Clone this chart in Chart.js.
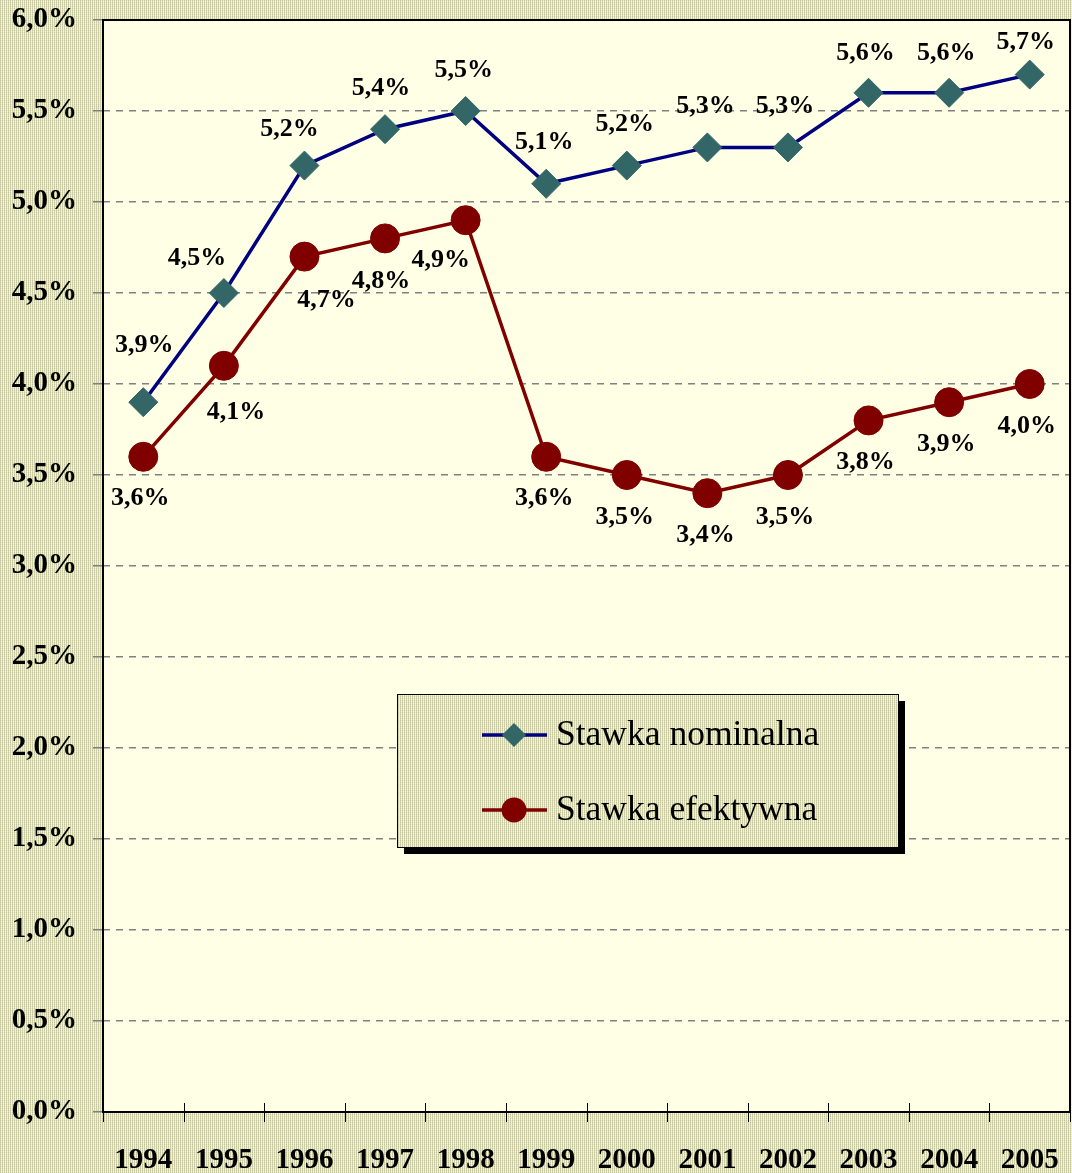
<!DOCTYPE html>
<html><head><meta charset="utf-8">
<script src="https://cdn.jsdelivr.net/npm/chart.js@4"></script>
<style>html,body{margin:0;padding:0;background:#DCDCC0;overflow:hidden}canvas{display:block}</style>
</head><body>
<canvas id="c" width="1072" height="1173"></canvas>
<script>
const years = ['1994','1995','1996','1997','1998','1999','2000','2001','2002','2003','2004','2005'];
const nominal = [3.9,4.5,5.2,5.4,5.5,5.1,5.2,5.3,5.3,5.6,5.6,5.7];
const effective = [3.6,4.1,4.7,4.8,4.9,3.6,3.5,3.4,3.5,3.8,3.9,4.0];
const seriesNames = ['Stawka nominalna','Stawka efektywna'];
const yMin = 0, yMax = 6, yStep = 0.5;

const SERIF = '"Liberation Serif","Times New Roman",serif';
const fmt = v => v.toFixed(1).replace('.', ',') + '%';

// label placement (layout config, pixels relative to the point)
const labelOffsets = [
  [[1,-57],[-27,-35],[-15,-36],[-4,-41],[-2,-41],[-2,-42],[-2,-41],[-2,-41],[-3,-41],[-3,-40],[-3,-40],[-4,-32]],
  [[-3,41],[12,46],[22,44],[-4,43],[-25,40],[-2,41],[-2,42],[-2,42],[-3,42],[-3,42],[-3,42],[-3,42]]
];

function makePattern(ctx){
  const p = document.createElement('canvas'); p.width = 2; p.height = 2;
  const g = p.getContext('2d');
  g.fillStyle = '#C6C69C'; g.fillRect(0,0,1,1);
  g.fillStyle = '#EEEED8'; g.fillRect(1,0,1,1);
  g.fillStyle = '#D4D4B0'; g.fillRect(0,1,1,1);
  g.fillStyle = '#F4F4E6'; g.fillRect(1,1,1,1);
  return ctx.createPattern(p, 'repeat');
}

const decor = {
  id: 'decor',
  beforeDraw(chart){
    const {ctx, chartArea: a, width, height} = chart;
    ctx.save();
    ctx.fillStyle = makePattern(ctx);
    ctx.fillRect(0,0,width,height);
    ctx.fillStyle = '#FFFFE6';
    ctx.fillRect(a.left, a.top, a.right-a.left, a.bottom-a.top);
    ctx.restore();
  },
  beforeDatasetsDraw(chart){
    const {ctx, chartArea: a, scales:{x}} = chart;
    ctx.save();
    ctx.strokeStyle = '#000'; ctx.lineWidth = 2;
    ctx.strokeRect(a.left, a.top, a.right-a.left, a.bottom-a.top);
    ctx.lineWidth = 1;
    const n = years.length;
    const step = x.getPixelForValue(1) - x.getPixelForValue(0);
    for (let i = 0; i <= n; i++){
      const px = x.getPixelForValue(0) - step/2 + i*step;
      const xx = Math.round(px)+0.5;
      ctx.beginPath(); ctx.moveTo(xx, a.bottom-9); ctx.lineTo(xx, a.bottom+10); ctx.stroke();
    }
    ctx.restore();
  },
  afterDatasetsDraw(chart){
    const {ctx} = chart;
    ctx.save();
    ctx.font = 'bold 26px ' + SERIF;
    ctx.fillStyle = '#000';
    ctx.textAlign = 'center'; ctx.textBaseline = 'middle';
    chart.data.datasets.forEach((ds, di) => {
      const meta = chart.getDatasetMeta(di);
      meta.data.forEach((pt, i) => {
        const o = labelOffsets[di][i];
        ctx.fillText(fmt(ds.data[i]), pt.x + o[0], pt.y + o[1]);
      });
    });
    ctx.restore();
  },
  afterDraw(chart){
    const {ctx} = chart;
    const bx = 397, by = 694, bw = 501, bh = 153;
    ctx.save();
    ctx.fillStyle = '#000';
    ctx.fillRect(bx+7, by+7, bw, bh);
    ctx.fillStyle = makePattern(ctx);
    ctx.fillRect(bx, by, bw, bh);
    ctx.strokeStyle = '#000'; ctx.lineWidth = 1;
    ctx.strokeRect(bx+0.5, by+0.5, bw, bh);
    const items = [
      {y: 735, color: '#000080', fill: '#336666', style: 'rectRot', r: 12},
      {y: 810, color: '#800000', fill: '#800000', style: 'circle', r: 12.5}
    ];
    items.forEach((it, k) => {
      ctx.strokeStyle = it.color; ctx.lineWidth = 3.5;
      ctx.beginPath(); ctx.moveTo(482, it.y); ctx.lineTo(547, it.y); ctx.stroke();
      ctx.fillStyle = it.fill;
      ctx.beginPath();
      if (it.style === 'circle'){ ctx.arc(514, it.y, it.r, 0, Math.PI*2); }
      else { ctx.moveTo(514, it.y-it.r); ctx.lineTo(514+it.r, it.y); ctx.lineTo(514, it.y+it.r); ctx.lineTo(514-it.r, it.y); ctx.closePath(); }
      ctx.fill();
      ctx.fillStyle = '#000';
      ctx.font = '35.5px ' + SERIF;
      ctx.textAlign = 'left'; ctx.textBaseline = 'middle';
      ctx.fillText(seriesNames[k], 556, it.y + 1);
    });
    ctx.restore();
  }
};

new Chart(document.getElementById('c'), {
  type: 'line',
  data: {
    labels: years,
    datasets: [
      {label: seriesNames[0], data: nominal, borderColor: '#000080', borderWidth: 3.5,
       pointStyle: 'rectRot', pointRadius: 14.5, pointBackgroundColor: '#336666', pointBorderColor: '#336666', pointBorderWidth: 1, tension: 0},
      {label: seriesNames[1], data: effective, borderColor: '#800000', borderWidth: 3.5,
       pointStyle: 'circle', pointRadius: 14.5, pointBackgroundColor: '#800000', pointBorderColor: '#800000', pointBorderWidth: 1, tension: 0}
    ]
  },
  options: {
    responsive: false, animation: false, devicePixelRatio: 1,
    layout: {autoPadding: false, padding: {top: 20, right: 2, left: 0, bottom: 0}},
    plugins: {legend: {display: false}, tooltip: {enabled: false}},
    scales: {
      x: {
        offset: true,
        grid: {display: false},
        border: {display: false},
        ticks: {color: '#000', font: {family: SERIF, size: 29, weight: 'bold'}, padding: 23, maxRotation: 0, autoSkip: false},
        afterFit(s){ s.height = 61; s.paddingLeft = 0; s.paddingRight = 0; }
      },
      y: {
        min: yMin, max: yMax,
        grid: {color: '#808080', lineWidth: 1.5, tickBorderDash: [], tickColor: '#808080', tickLength: 10},
        border: {display: false, dash: [7,6]},
        ticks: {stepSize: yStep, color: '#000', font: {family: SERIF, size: 29, weight: 'bold'}, padding: 16, callback: v => fmt(v)},
        afterFit(s){ s.width = 103; s.paddingTop = 0; s.paddingBottom = 0; }
      }
    }
  },
  plugins: [decor]
});
</script>
</body></html>
